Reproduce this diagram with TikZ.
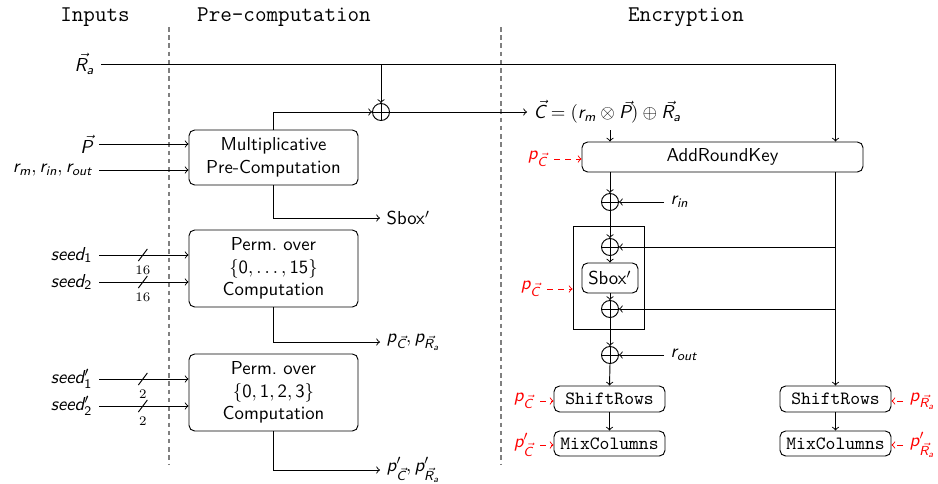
\documentclass[tikz,border=0pt]{standalone}
\usetikzlibrary{calc}
% sans-serif letters and digits in math
\DeclareSymbolFont{sfit}{TU}{lmss}{m}{sl}
\DeclareSymbolFont{sfup}{TU}{lmss}{m}{n}
\makeatletter
\@tfor\ch:=abcdefghijklmnopqrstuvwxyzABCDEFGHIJKLMNOPQRSTUVWXYZ\do{%
  \edef\tmp{\noexpand\DeclareMathSymbol{\ch}{\noexpand\mathalpha}{sfit}{`\ch}}\tmp}
\@tfor\ch:=0123456789\do{%
  \edef\tmp{\noexpand\DeclareMathSymbol{\ch}{\noexpand\mathalpha}{sfup}{`\ch}}\tmp}
\makeatother
% vector arrow shifted to sit over a slanted letter
\newcommand\vv[1]{\mathpalette\vvaux{#1}}
\newcommand\vvaux[2]{\mathord{\rlap{$#1\mkern3mu\vec{\phantom{#2}}$}#2}}
\newdimen\pxl
\pxl=0.534pt
\begin{document}
\begin{tikzpicture}[x=0.534pt,y=-0.534pt,
  font=\sffamily,
  line width=0.5pt,
  >=to,
  box/.style={draw, rounded corners=3pt, align=center, inner sep=0pt},
  xorop/.style={circle, draw, minimum size=17*\pxl, inner sep=0pt,
    path picture={\draw (path picture bounding box.north) -- (path picture bounding box.south)
      (path picture bounding box.west) -- (path picture bounding box.east);}},
  head/.style={font=\ttfamily\large},
  sep/.style={draw=gray, dash pattern=on 2.4pt off 2pt, line width=0.6pt},
  red arrow/.style={->, red, dashed},
  width label/.style={font=\scriptsize\rmfamily, inner sep=1pt, below},
  tt/.style={font=\ttfamily}
]
\useasboundingbox (0,0) rectangle (938,483);

% column headings and separators
\node[head] (hin) at (95,17) {Inputs};
\node[head] (hpre) at (284,17) {Pre-computation};
\node[head] (henc) at (686,17) {Encryption};
\coordinate (s1t) at (169,27); \coordinate (s1b) at (169,465);
\coordinate (s2t) at (501,27); \coordinate (s2b) at (501,465);
\draw[sep] (s1t) -- (s1b);
\draw[sep] (s2t) -- (s2b);

% pre-computation blocks
\node[box, minimum width=169*\pxl, minimum height=55*\pxl] (mpc) at (273.5,157.5)
  {Multiplicative\\Pre-Computation};
\node[box, minimum width=169*\pxl, minimum height=77*\pxl] (perm1) at (273.5,268.5)
  {Perm.\ over\\$\{0,\ldots,15\}$\\Computation};
\node[box, minimum width=169*\pxl, minimum height=77*\pxl] (perm2) at (273.5,392.5)
  {Perm.\ over\\$\{0,1,2,3\}$\\Computation};

% inputs
\node[anchor=east] (Ra) at (101,64) {$\vv{R}_a$};
\node[anchor=east] (P) at (99,144) {$\vv{P}$};
\node[anchor=east] (rr) at (99,170) {$r_m, r_{in}, r_{out}$};
\node[anchor=east] (sd1) at (99,255) {$seed_1$};
\node[anchor=east] (sd2) at (99,282) {$seed_2$};
\node[anchor=east] (sq1) at (99,379) {$seed'_1$};
\node[anchor=east] (sq2) at (99,406) {$seed'_2$};

\draw[->] (P.east) -- (P.east -| mpc.west);
\draw[->] (rr.east) -- (rr.east -| mpc.west);
\foreach \s/\w in {sd1/16, sd2/16, sq1/2, sq2/2}{
  \draw[->] (\s.east) -- (\s.east -| perm1.west) coordinate[pos=0.49] (\s-b);
  \draw ($(\s-b)+(-4.5,6)$) -- ($(\s-b)+(4.5,-6)$);
  \node[width label] (\s-w) at ($(\s-b)+(0,8)$) {\w};
}

% outputs of the pre-computation
\node[xorop] (x1) at (381,112) {};
\node[anchor=west] (Ceq) at (527,112) {$\vv{C}=(r_m\otimes\vv{P})\oplus\vv{R}_a$};
\node[anchor=west] (sbo) at (380,218) {Sbox$'$};
\node[anchor=west] (po1) at (380,342) {$p_{\vv{C}}, p_{\vv{R}_a}$};
\node[anchor=west] (po2) at (380,470) {$p'_{\vv{C}}, p'_{\vv{R}_a}$};

\draw[->] (mpc.north) |- (x1.west);
\draw[->] (x1.east) -- (x1.east -| Ceq.west);
\draw[->] (mpc.south) |- (sbo.west);
\draw[->] (perm1.south) |- (po1.west);
\draw[->] (perm2.south) |- (po2.west);

% encryption round
\node[box, minimum width=281*\pxl, minimum height=30*\pxl] (ark) at (722.5,157) {AddRoundKey};
\node[xorop] (x2) at (610,202) {};
\node[draw, minimum width=71*\pxl, minimum height=103*\pxl, inner sep=0pt] (grp) at (608.5,277.5) {};
\node[xorop] (x3) at (610,247) {};
\node[box, minimum width=56*\pxl, minimum height=30*\pxl] (sbx) at (610,278) {Sbox$'$};
\node[xorop] (x4) at (610,309) {};
\node[xorop] (x5) at (610,355) {};
\node[box, tt, minimum width=111*\pxl, minimum height=26*\pxl] (sr1) at (609.5,399) {ShiftRows};
\node[box, tt, minimum width=111*\pxl, minimum height=25*\pxl] (mc1) at (609.5,443.5) {MixColumns};
\node[box, tt, minimum width=111*\pxl, minimum height=26*\pxl] (sr2) at (835.5,399) {ShiftRows};
\node[box, tt, minimum width=111*\pxl, minimum height=25*\pxl] (mc2) at (835.5,443.5) {MixColumns};
\node[anchor=west] (rin) at (664,202) {$r_{in}$};
\node[anchor=west] (rout) at (664,355) {$r_{out}$};

\draw[->] (Ra.east) -| (sr2.north |- ark.north);
\draw[->] (Ra.east -| x1) -- (x1.north);
\draw[->] (x2 |- Ceq.south) -- (x2 |- ark.north);
\draw[->] (x2 |- ark.south) -- (x2.north);
\draw[->] (x2.south) -- (x3.north);
\draw[->] (x3.south) -- (sbx.north);
\draw[->] (sbx.south) -- (x4.north);
\draw[->] (x4.south) -- (x5.north);
\draw[->] (x5.south) -- (sr1.north);
\draw[->] (sr1.south) -- (mc1.north);
\draw[->] (rin.west) -- (x2.east);
\draw[->] (rout.west) -- (x5.east);
\draw[->] (sr2.north |- ark.south) -- (sr2.north);
\draw[->] (sr2.south) -- (mc2.north);
\draw[->] (x3 -| sr2) -- (x3.east);
\draw[->] (x4 -| sr2) -- (x4.east);

% permutation inputs
\node[anchor=east, red] (pa) at (554,159) {$p_{\vv{C}}$};
\node[anchor=east, red] (pb) at (547,289) {$p_{\vv{C}}$};
\node[anchor=east, red] (pc) at (540,401) {$p_{\vv{C}}$};
\node[anchor=east, red] (pd) at (540,445) {$p'_{\vv{C}}$};
\node[anchor=west, red] (pe) at (903,401) {$p_{\vv{R}_a}$};
\node[anchor=west, red] (pf) at (903,445) {$p'_{\vv{R}_a}$};
\draw[red arrow] (pa.east) -- (pa.east -| ark.west);
\draw[red arrow] (pb.east) -- (pb.east -| grp.west);
\draw[red arrow] (pc.east) -- (pc.east -| sr1.west);
\draw[red arrow] (pd.east) -- (pd.east -| mc1.west);
\draw[red arrow] (pe.west) -- (pe.west -| sr2.east);
\draw[red arrow] (pf.west) -- (pf.west -| mc2.east);
\end{tikzpicture}
\end{document}
